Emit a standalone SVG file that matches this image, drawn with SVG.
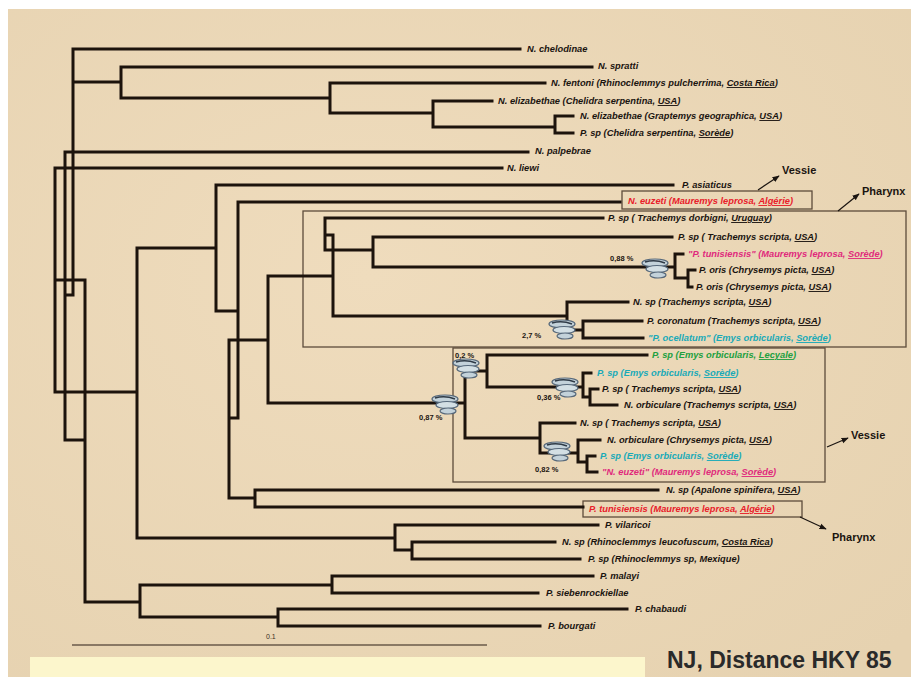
<svg xmlns="http://www.w3.org/2000/svg" width="911" height="677" viewBox="0 0 911 677">
<style>
.br{fill:none;stroke:#1c130c;stroke-width:3;stroke-linecap:square;stroke-linejoin:miter}
.lb{font-family:"Liberation Sans",Arial,sans-serif;font-size:9.3px;font-weight:bold;font-style:italic;fill:#1a1410}
.u{text-decoration:underline}
.red{fill:#e8202a}.mag{fill:#e02a7c}.cy{fill:#19aab8}.gr{fill:#22a040}
.pc{font-family:"Liberation Sans",Arial,sans-serif;font-size:7.5px;font-weight:bold;fill:#1a1410}
.box{fill:none;stroke:#5d4c3b;stroke-width:1.3}
.ann{font-family:"Liberation Sans",Arial,sans-serif;font-size:11px;font-weight:bold;fill:#1a1410}
.arr{stroke:#1a1410;stroke-width:1.2;fill:none;marker-end:url(#ah)}
</style>
<defs>
<marker id="ah" viewBox="0 0 10 10" refX="9" refY="5" markerWidth="6" markerHeight="6" orient="auto">
<path d="M0,1 L10,5 L0,9 z" fill="#1a1410"/>
</marker>
<g id="fluke">
<ellipse cx="0" cy="-5" rx="13" ry="4" fill="#c3d2da" stroke="#56687a" stroke-width="1.2"/>
<ellipse cx="2" cy="1" rx="11" ry="3.5" fill="#d3dfe4" stroke="#56687a" stroke-width="1.2"/>
<ellipse cx="3" cy="7" rx="8" ry="3" fill="#c3d2da" stroke="#56687a" stroke-width="1.2"/>
<path d="M-10,-6 Q0,-9 10,-5" fill="none" stroke="#2e3a46" stroke-width="1.4"/>
</g>
<radialGradient id="bg" cx="0.4" cy="0.4" r="0.8">
<stop offset="0" stop-color="#efdcbd"/>
<stop offset="1" stop-color="#e6d2b0"/>
</radialGradient>
</defs>
<rect x="0" y="0" width="911" height="677" fill="#ffffff"/>
<rect x="8" y="9" width="903" height="668" fill="url(#bg)"/>
<rect x="30" y="657" width="615" height="20" fill="#fcf6cc"/>

<g id="boxes">
<rect class="box" x="303" y="211" width="603" height="136"/>
<rect class="box" x="453" y="348" width="372" height="134"/>
<rect class="box" x="622" y="191" width="190" height="18" fill="#efdfc2"/>
<rect class="box" x="583" y="501" width="219" height="16" fill="#efdfc2"/>
</g>

<g id="connectors">
<path class="br" d="M73,49 V295 M73,49 H520 M73,82 H121 M121,67 V98 M121,67 H592 M121,98 H330 M330,83 V113 M330,83 H545 M330,113 H433 M433,101 V127 M433,101 H492 M433,127 H555 M555,116 V133 M555,116 H573 M555,133 H573
M65,152 V440 M65,152 H528 M55,168 V392 M55,168 H502 M55,280 H85 M65,295 H73 M85,280 V602 M65,440 H85 M55,392 H137
M137,248 V538 M137,248 H216 M216,185 V311 M216,185 H673 M216,311 H238 M238,202 V418 M238,202 H620
M229,340 V498 M229,340 H268 M229,418 H238 M268,276 V403 M268,276 H333
M325,218 V250 M325,218 H603 M325,235 H333 M333,235 V316 M325,250 H373 M373,237 V267 M373,237 H672 M373,267 H675
M675,254 V278 M675,254 H683 M675,278 H688 M688,270 V287 M688,270 H695 M688,287 H692
M333,316 H567 M567,302 V330 M567,302 H628 M567,330 H583 M583,321 V338 M583,321 H642 M583,338 H643
M268,403 H465 M465,371 V438 M465,371 H487 M487,355 V387 M487,355 H647 M487,387 H583 M583,373 V397 M583,373 H591 M583,397 H590 M590,389 V405 M590,389 H598 M590,405 H617
M465,438 H540 M540,423 V453 M540,423 H575 M540,453 H578 M578,440 V462 M578,440 H600 M578,462 H587 M587,456 V472 M587,456 H595 M587,472 H597
M229,498 H255 M255,490 V507 M255,490 H658 M255,507 H583
M137,538 H395 M395,525 V550 M395,525 H598 M395,550 H412 M412,542 V559 M412,542 H555 M412,559 H580
M85,602 H140 M140,585 V617 M140,585 H332 M332,576 V593 M332,576 H593 M332,593 H538 M140,617 H278 M278,609 V626 M278,609 H627 M278,626 H540"/>
</g>

<g id="flukes">
<use href="#fluke" transform="translate(655,268)"/>
<use href="#fluke" transform="translate(562,329)"/>
<use href="#fluke" transform="translate(466,368)"/>
<use href="#fluke" transform="translate(565,387)"/>
<use href="#fluke" transform="translate(445,404)"/>
<use href="#fluke" transform="translate(557,451)"/>
</g>

<g id="percents">
<text class="pc" x="610" y="261">0,88 %</text>
<text class="pc" x="522" y="338">2,7 %</text>
<text class="pc" x="455" y="358">0,2 %</text>
<text class="pc" x="537" y="400">0,36 %</text>
<text class="pc" x="419" y="420">0,87 %</text>
<text class="pc" x="535" y="472">0,82 %</text>
</g>

<g id="n1"><text class="lb" x="527" y="52">N. chelodinae</text></g>
<g id="n2"><text class="lb" x="598" y="69">N. spratti</text></g>
<g id="n3"><text class="lb" x="551" y="86">N. fentoni (Rhinoclemmys pulcherrima, <tspan class="u">Costa Rica</tspan>)</text></g>
<g id="n4"><text class="lb" x="498" y="104">N. elizabethae (Chelidra serpentina, <tspan class="u">USA</tspan>)</text></g>
<g id="n5"><text class="lb" x="580" y="119">N. elizabethae (Graptemys geographica, <tspan class="u">USA</tspan>)</text></g>
<g id="n6"><text class="lb" x="580" y="136">P. sp (Chelidra serpentina, <tspan class="u">Sorède</tspan>)</text></g>
<g id="n7"><text class="lb" x="535" y="154">N. palpebrae</text></g>
<g id="n8"><text class="lb" x="507" y="171">N. liewi</text></g>
<g id="n9"><text class="lb" x="682" y="188">P. asiaticus</text></g>
<g id="n10"><text class="lb red" x="628" y="204">N. euzeti (Mauremys leprosa, <tspan class="u">Algérie</tspan>)</text></g>
<g id="n11"><text class="lb" x="608" y="221">P. sp ( Trachemys dorbigni, <tspan class="u">Uruguay</tspan>)</text></g>
<g id="n12"><text class="lb" x="678" y="240">P. sp ( Trachemys scripta, <tspan class="u">USA</tspan>)</text></g>
<g id="n13"><text class="lb mag" x="688" y="257">"P. tunisiensis" (Mauremys leprosa, <tspan class="u">Sorède</tspan>)</text></g>
<g id="n14"><text class="lb" x="699" y="273">P. oris (Chrysemys picta, <tspan class="u">USA</tspan>)</text></g>
<g id="n15"><text class="lb" x="696" y="290">P. oris (Chrysemys picta, <tspan class="u">USA</tspan>)</text></g>
<g id="n16"><text class="lb" x="633" y="305">N. sp (Trachemys scripta, <tspan class="u">USA</tspan>)</text></g>
<g id="n17"><text class="lb" x="647" y="324">P. coronatum (Trachemys scripta, <tspan class="u">USA</tspan>)</text></g>
<g id="n18"><text class="lb cy" x="648" y="341">"P. ocellatum" (Emys orbicularis, <tspan class="u">Sorède</tspan>)</text></g>
<g id="n19"><text class="lb gr" x="652" y="358">P. sp (Emys orbicularis, <tspan class="u">Lecyale</tspan>)</text></g>
<g id="n20"><text class="lb cy" x="597" y="376">P. sp (Emys orbicularis, <tspan class="u">Sorède</tspan>)</text></g>
<g id="n21"><text class="lb" x="602" y="392">P. sp ( Trachemys scripta, <tspan class="u">USA</tspan>)</text></g>
<g id="n22"><text class="lb" x="624" y="408">N. orbiculare (Trachemys scripta, <tspan class="u">USA</tspan>)</text></g>
<g id="n23"><text class="lb" x="580" y="426">N. sp ( Trachemys scripta, <tspan class="u">USA</tspan>)</text></g>
<g id="n24"><text class="lb" x="607" y="443">N. orbiculare (Chrysemys picta, <tspan class="u">USA</tspan>)</text></g>
<g id="n25"><text class="lb cy" x="600" y="459">P. sp (Emys orbicularis, <tspan class="u">Sorède</tspan>)</text></g>
<g id="n26"><text class="lb mag" x="602" y="475">"N. euzeti" (Mauremys leprosa, <tspan class="u">Sorède</tspan>)</text></g>
<g id="n27"><text class="lb" x="666" y="493">N. sp (Apalone spinifera, <tspan class="u">USA</tspan>)</text></g>
<g id="n28"><text class="lb red" x="589" y="512">P. tunisiensis (Mauremys leprosa, <tspan class="u">Algérie</tspan>)</text></g>
<g id="n29"><text class="lb" x="605" y="528">P. vilaricoi</text></g>
<g id="n30"><text class="lb" x="562" y="545">N. sp (Rhinoclemmys leucofuscum, <tspan class="u">Costa Rica</tspan>)</text></g>
<g id="n31"><text class="lb" x="588" y="562">P. sp (Rhinoclemmys sp, Mexique)</text></g>
<g id="n32"><text class="lb" x="600" y="579">P. malayi</text></g>
<g id="n33"><text class="lb" x="546" y="596">P. siebenrockiellae</text></g>
<g id="n34"><text class="lb" x="635" y="612">P. chabaudi</text></g>
<g id="n35"><text class="lb" x="548" y="629">P. bourgati</text></g>

<g id="annotations">
<path class="arr" d="M758,190 L779,176"/>
<text class="ann" x="782" y="174">Vessie</text>
<path class="arr" d="M838,211 L859,194"/>
<text class="ann" x="862" y="195">Pharynx</text>
<path class="arr" d="M827,447 L848,438"/>
<text class="ann" x="851" y="439">Vessie</text>
<path class="arr" d="M800,517 L826,529"/>
<text class="ann" x="832" y="541">Pharynx</text>
</g>

<g id="scale">
<line x1="72" y1="645" x2="487" y2="645" stroke="#6a5a4a" stroke-width="1.6"/>
<text x="266" y="639" font-family="Liberation Sans, Arial, sans-serif" font-size="7" fill="#3a2e22">0.1</text>
</g>

<text x="667" y="668" font-family="Liberation Sans, Arial, sans-serif" font-size="23" font-weight="bold" fill="#2a2a2a">NJ, Distance HKY 85</text>
</svg>
